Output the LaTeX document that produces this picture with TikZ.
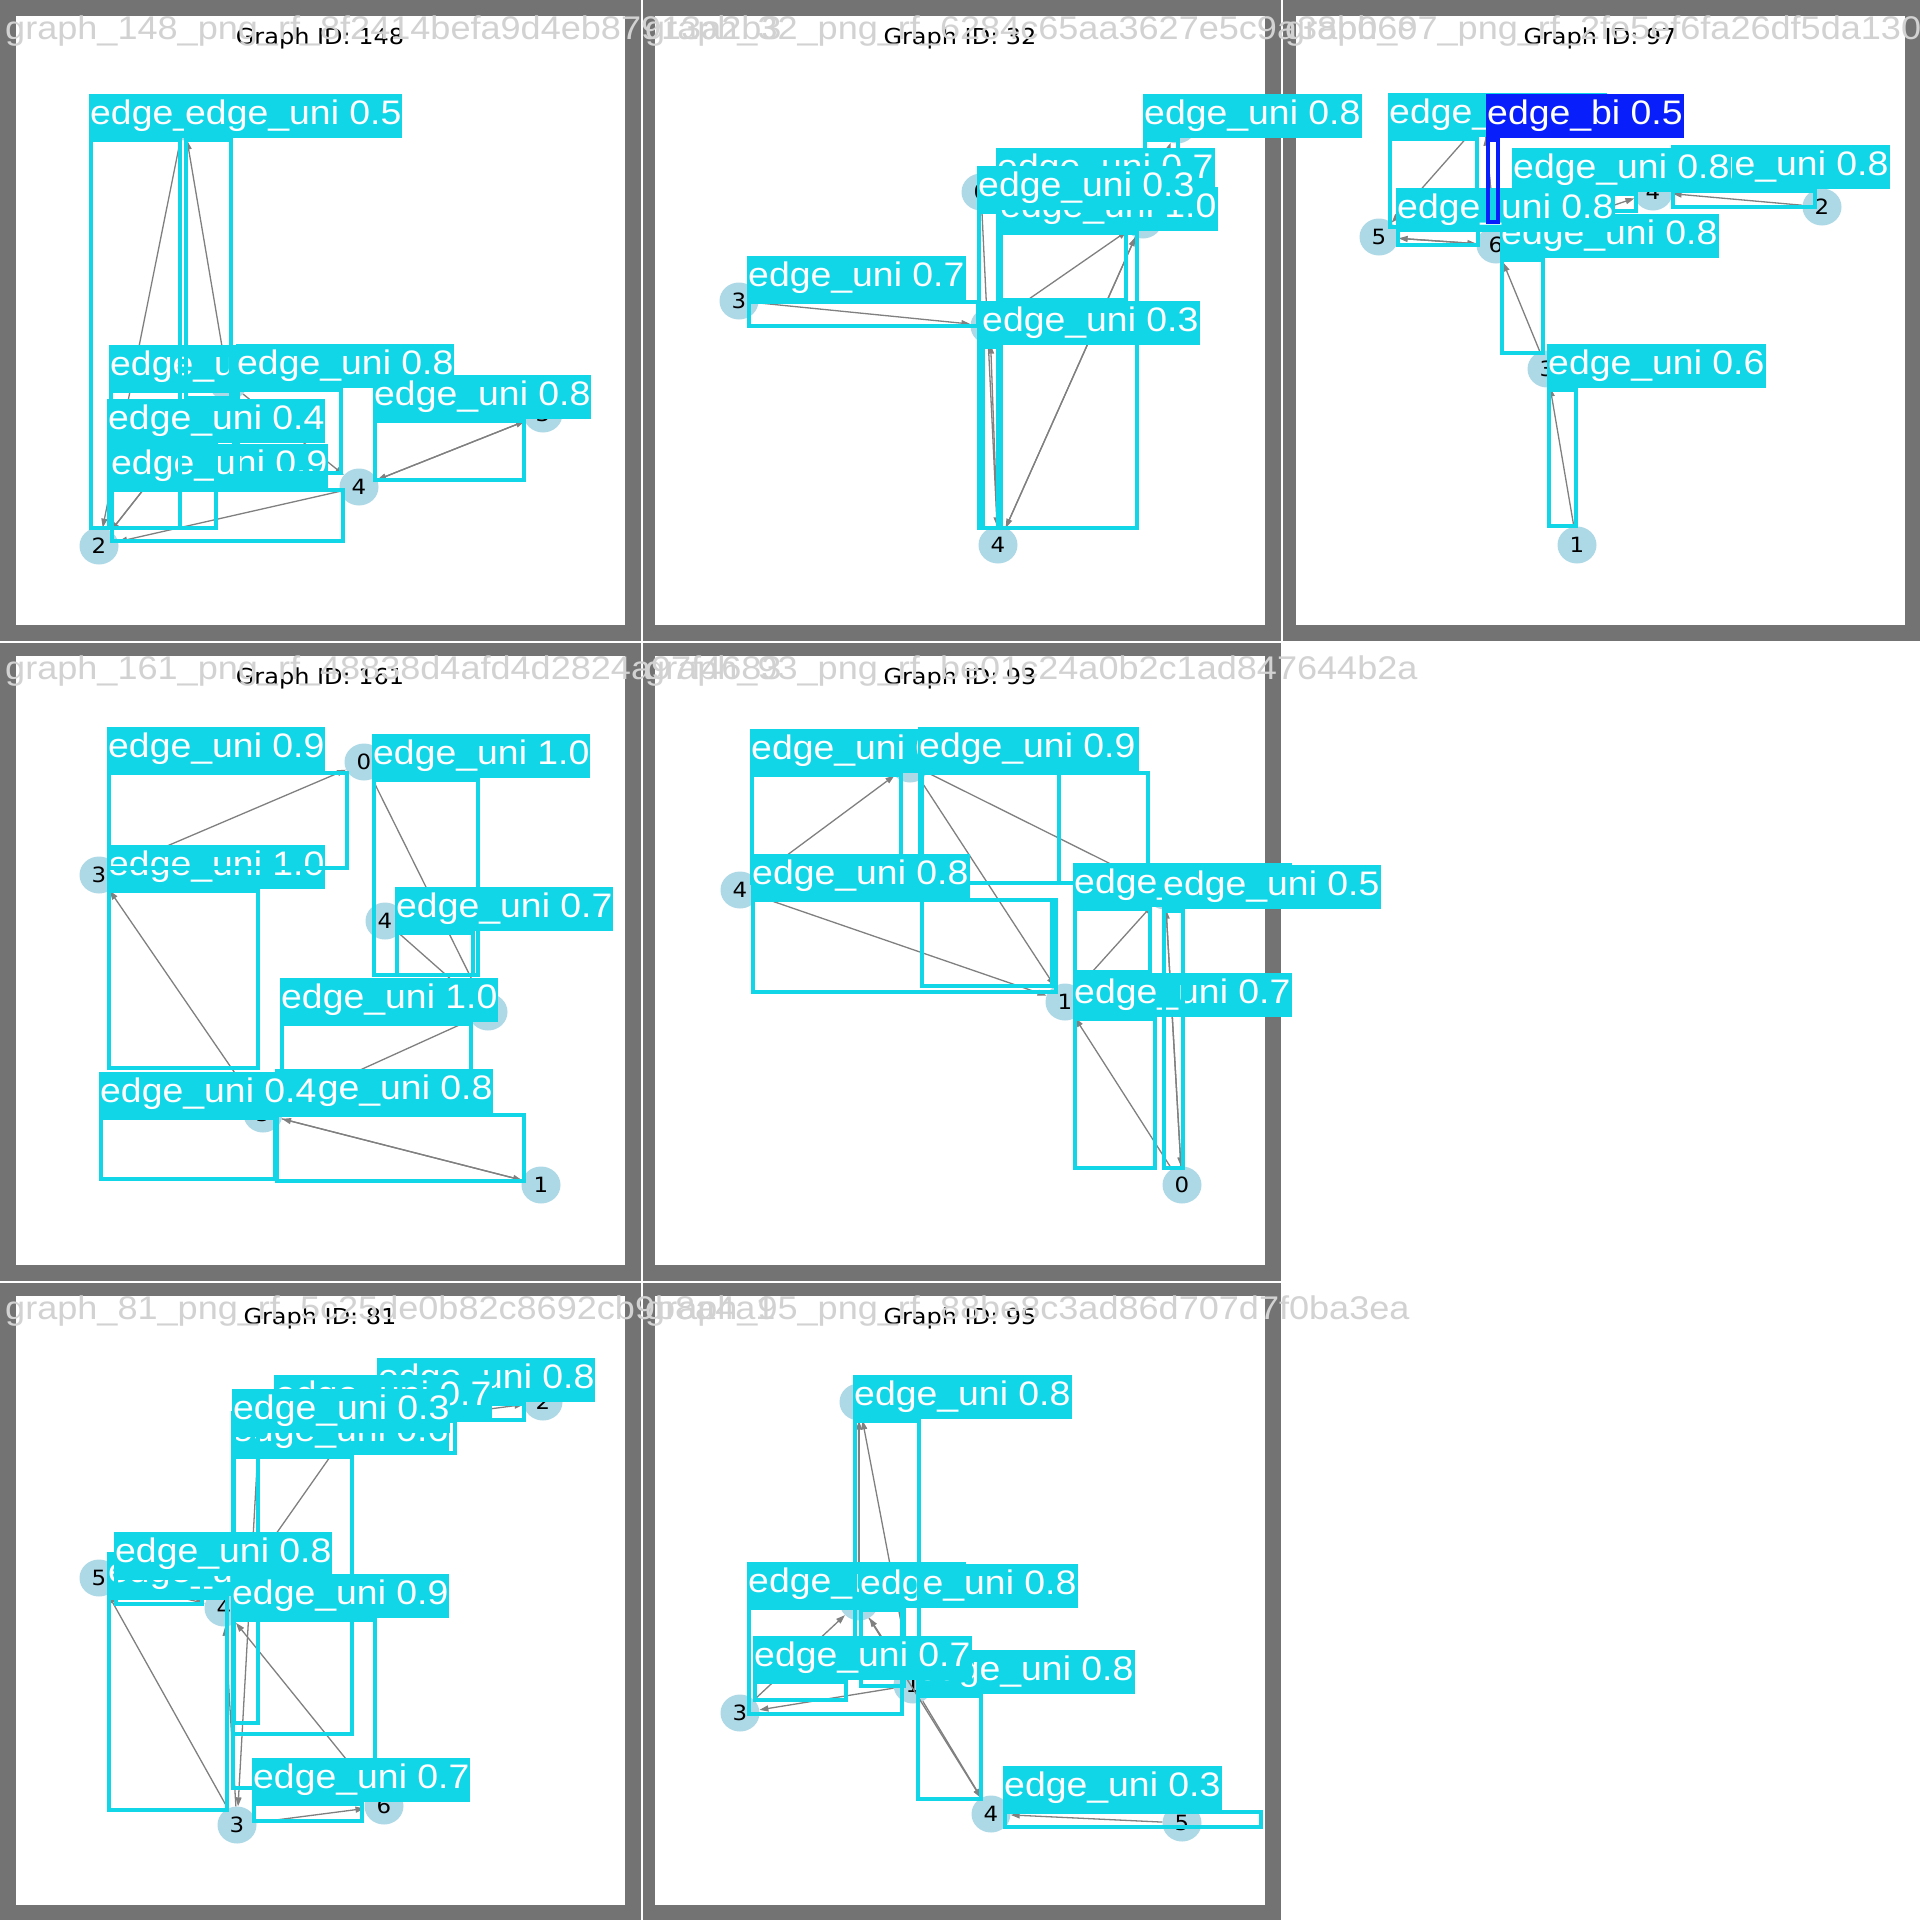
\documentclass[tikz,border=0pt]{standalone}
\usepackage{fontspec}
\usetikzlibrary{shapes.geometric,arrows.meta}
\newfontfamily\lblfam[FakeStretch=1.1]{Liberation Sans}
\newfontfamily\djvfam[FakeStretch=1.09]{DejaVu Sans}
\definecolor{framegray}{RGB}{115,115,115}
\definecolor{detcyan}{RGB}{16,214,232}
\definecolor{detblue}{RGB}{8,30,250}
\definecolor{nodeblue}{RGB}{173,216,230}
\definecolor{edgegray}{RGB}{128,128,128}
\definecolor{ovlgray}{RGB}{210,210,210}
\newcommand\labfont{\lblfam\fontsize{34}{34}\selectfont}
\newcommand\ovlfont{\lblfam\fontsize{32.8}{33}\selectfont}
\newcommand\ttlfont{\djvfam\fontsize{22}{22}\selectfont}
\newcommand\nodefont{\djvfam\fontsize{21}{21}\selectfont}
\newcommand\detbox[6]{%
  \draw[bx] (#2+2,#3+2) rectangle (#4-2,#5-2);
  \node[lab] (#1) at (#2,#3) {#6};}
\newcommand\detboxblue[6]{%
  \draw[bx,draw=detblue] (#2+2,#3+2) rectangle (#4-2,#5-2);
  \node[lab,fill=detblue] (#1) at (#2,#3) {#6};}
\begin{document}
\begin{tikzpicture}[x=1pt,y=-1pt,
  gnode/.style={ellipse,fill=nodeblue,minimum width=39pt,minimum height=37pt,inner sep=0pt,font=\nodefont,text=black},
  ar/.style={draw=edgegray,line width=1.3pt,-{Triangle[length=9pt,width=6pt]}},
  bx/.style={draw=detcyan,line width=4pt},
  lab/.style={fill=detcyan,text=white,inner xsep=1pt,inner ysep=0pt,minimum height=44pt,anchor=south west,font=\labfont},
  ttl/.style={font=\ttlfont,text=black,anchor=base,inner sep=0pt},
  ovl/.style={font=\ovlfont,text=ovlgray,anchor=base west,inner sep=0pt}]
\useasboundingbox (0,0) rectangle (1920,1920);
\fill[white] (0,0) rectangle (1920,1920);
% ---------- panel frames ----------
\fill[framegray] (0,0) rectangle (641,641);       \fill[white] (15.5,15.5) rectangle (624.5,624.5);
\fill[framegray] (643,0) rectangle (1281,641);    \fill[white] (655,15.5) rectangle (1264.5,624.5);
\fill[framegray] (1283,0) rectangle (1920,641);   \fill[white] (1295.5,15.5) rectangle (1904.5,624.5);
\fill[framegray] (0,643) rectangle (641,1281);    \fill[white] (15.5,655.5) rectangle (624.5,1264.5);
\fill[framegray] (643,643) rectangle (1281,1281); \fill[white] (655,655.5) rectangle (1264.5,1264.5);
\fill[framegray] (0,1283) rectangle (641,1920);   \fill[white] (15.5,1295.5) rectangle (624.5,1904.5);
\fill[framegray] (643,1283) rectangle (1281,1920);\fill[white] (655,1295.5) rectangle (1264.5,1904.5);
% ---------- titles ----------
\node[ttl] (t1) at (320,44) {Graph ID: 148};
\node[ttl] (t2) at (960,44) {Graph ID: 32};
\node[ttl] (t3) at (1600,44) {Graph ID: 97};
\node[ttl] (t4) at (320,684) {Graph ID: 161};
\node[ttl] (t5) at (960,684) {Graph ID: 93};
\node[ttl] (t6) at (320,1324) {Graph ID: 81};
\node[ttl] (t7) at (960,1324) {Graph ID: 95};
% ---------- panel 1 : graph 148 ----------
\node[gnode] (a0) at (184,122) {0};
\node[gnode] (a1) at (228,382) {1};
\node[gnode] (a2) at (99,546) {2};
\node[gnode] (a3) at (543,414) {3};
\node[gnode] (a4) at (359,487) {4};
\draw[ar] (a0) -- (a2);
\draw[ar] (a1) -- (a0);
\draw[ar] (a2) -- (a1);
\draw[ar] (a1) -- (a2);
\draw[ar] (a1) -- (a4);
\draw[ar] (a4) -- (a2);
\draw[ar] (a4) -- (a3);
\draw[ar] (a3) -- (a4);
\detbox{ad3}{109}{389}{236}{490}{edge\_uni 0.8}
\detbox{ad7}{110}{488}{345}{543}{edge\_uni 0.9}
\detbox{ad4}{236}{388}{343}{475}{edge\_uni 0.8}
\detbox{ad1}{89}{138}{182}{530}{edge\_uni 0.5}
\detbox{ad2}{184}{138}{233}{400}{edge\_uni 0.5}
\detbox{ad5}{373}{419}{526}{482}{edge\_uni 0.8}
\detbox{ad6}{107}{443}{218}{530}{edge\_uni 0.4}
% ---------- panel 2 : graph 32 ----------
\node[gnode] (b0) at (981,192) {0};
\node[gnode] (b1) at (990,326) {1};
\node[gnode] (b2) at (1143,220) {2};
\node[gnode] (b3) at (739,301) {3};
\node[gnode] (b4) at (998,545) {4};
\node[gnode] (b5) at (1177,125) {5};
\draw[ar] (b3) -- (b1);
\draw[ar] (b1) -- (b2);
\draw[ar] (b2) -- (b4);
\draw[ar] (b4) -- (b2);
\draw[ar] (b0) -- (b4);
\draw[ar] (b4) -- (b1);
\draw[ar] (b2) -- (b5);
\detbox{bd2}{1143}{138}{1180}{228}{edge\_uni 0.8}
\detbox{bd3}{996}{192}{1128}{302}{edge\_uni 0.7}
\detbox{bd4}{999}{231}{1139}{530}{edge\_uni 1.0}
\detbox{bd5}{977}{210}{1000}{530}{edge\_uni 0.3}
\detbox{bd1}{747}{300}{980}{328}{edge\_uni 0.7}
\detbox{bd6}{981}{345}{1000}{530}{edge\_uni 0.3}
% ---------- panel 3 : graph 97 ----------
\node[gnode] (c0) at (1484,118) {0};
\node[gnode] (c1) at (1577,545) {1};
\node[gnode] (c2) at (1822,207) {2};
\node[gnode] (c3) at (1547,369) {3};
\node[gnode] (c4) at (1653,192) {4};
\node[gnode] (c5) at (1379,237) {5};
\node[gnode] (c6) at (1496,245) {6};
\draw[ar] (c1) -- (c3);
\draw[ar] (c3) -- (c6);
\draw[ar] (c5) -- (c6);
\draw[ar] (c6) -- (c5);
\draw[ar] (c0) -- (c5);
\draw[ar] (c0) -- (c6);
\draw[ar] (c6) -- (c0);
\draw[ar] (c2) -- (c4);
\draw[ar] (c6) -- (c4);
\detbox{cd1}{1388}{137}{1479}{229}{edge\_uni 0.8}
\detbox{cd2}{1671}{189}{1817}{209}{edge\_uni 0.8}
\detbox{cd3}{1512}{192}{1638}{213}{edge\_uni 0.8}
\detbox{cd4}{1500}{258}{1545}{355}{edge\_uni 0.8}
\draw[bx] (1398,226) rectangle (1478,245);
\node[lab] (cd5) at (1396,232) {edge\_uni 0.8};
\detboxblue{cd6}{1486}{138}{1500}{224}{edge\_bi 0.5}
\detbox{cd7}{1547}{388}{1578}{528}{edge\_uni 0.6}
% ---------- panel 4 : graph 161 ----------
\node[gnode] (d0) at (364,762) {0};
\node[gnode] (d1) at (541,1185) {1};
\node[gnode] (d2) at (488,1012) {2};
\node[gnode] (d3) at (99,875) {3};
\node[gnode] (d4) at (385,921) {4};
\node[gnode] (d5) at (263,1114) {5};
\draw[ar] (d5) -- (d3);
\draw[ar] (d3) -- (d0);
\draw[ar] (d0) -- (d2);
\draw[ar] (d4) -- (d2);
\draw[ar] (d2) -- (d5);
\draw[ar] (d1) -- (d5);
\draw[ar] (d5) -- (d1);
\detbox{dd3}{107}{889}{260}{1070}{edge\_uni 1.0}
\detbox{dd1}{107}{771}{349}{870}{edge\_uni 0.9}
\detbox{dd2}{372}{778}{480}{977}{edge\_uni 1.0}
\detbox{dd4}{395}{931}{475}{977}{edge\_uni 0.7}
\detbox{dd5}{280}{1022}{473}{1073}{edge\_uni 1.0}
\detbox{dd6}{275}{1113}{526}{1183}{edge\_uni 0.8}
\detbox{dd7}{99}{1116}{277}{1181}{edge\_uni 0.4}
% ---------- panel 5 : graph 93 ----------
\node[gnode] (e0) at (1182,1185) {0};
\node[gnode] (e1) at (1065,1002) {1};
\node[gnode] (e2) at (910,764) {2};
\node[gnode] (e3) at (1165,891) {3};
\node[gnode] (e4) at (740,890) {4};
\draw[ar] (e4) -- (e2);
\draw[ar] (e4) -- (e1);
\draw[ar] (e2) -- (e1);
\draw[ar] (e2) -- (e3);
\draw[ar] (e1) -- (e3);
\draw[ar] (e0) -- (e1);
\draw[ar] (e0) -- (e3);
\draw[ar] (e3) -- (e0);
\detbox{ed3}{920}{771}{1061}{885}{edge\_uni 0.9}
\detbox{ed1}{750}{773}{903}{885}{edge\_uni 0.8}
\detbox{ed2}{918}{771}{1150}{885}{edge\_uni 0.9}
\draw[bx] (922,900) rectangle (1052,986);
\detbox{ed5}{751}{898}{1058}{994}{edge\_uni 0.8}
\detbox{ed6}{1073}{907}{1152}{974}{edge\_uni 0.8}
\detbox{ed8}{1073}{1017}{1157}{1170}{edge\_uni 0.7}
\detbox{ed7}{1162}{909}{1185}{1170}{edge\_uni 0.5}
% ---------- panel 6 : graph 81 ----------
\node[gnode] (f0) at (259,1431) {0};
\node[gnode] (f1) at (351,1427) {1};
\node[gnode] (f2) at (543,1402) {2};
\node[gnode] (f3) at (237,1825) {3};
\node[gnode] (f4) at (224,1608) {4};
\node[gnode] (f5) at (99,1578) {5};
\node[gnode] (f6) at (384,1806) {6};
\draw[ar] (f0) -- (f3);
\draw[ar] (f3) -- (f4);
\draw[ar] (f1) -- (f4);
\draw[ar] (f5) -- (f4);
\draw[ar] (f3) -- (f5);
\draw[ar] (f6) -- (f4);
\draw[ar] (f3) -- (f6);
\draw[ar] (f1) -- (f2);
\detbox{fd1}{377}{1402}{526}{1422}{edge\_uni 0.8}
\detbox{fd2}{274}{1419}{457}{1455}{edge\_uni 0.7}
\detbox{fd3}{231}{1455}{354}{1736}{edge\_uni 0.6}
\detbox{fd4}{232}{1433}{260}{1725}{edge\_uni 0.3}
\detbox{fd5}{107}{1596}{229}{1812}{edge\_uni 0.4}
\detbox{fd6}{114}{1576}{204}{1606}{edge\_uni 0.8}
\detbox{fd7}{231}{1618}{377}{1790}{edge\_uni 0.9}
\detbox{fd8}{252}{1802}{364}{1823}{edge\_uni 0.7}
% ---------- panel 7 : graph 95 ----------
\node[gnode] (g0) at (859,1402) {0};
\node[gnode] (g1) at (913,1685) {1};
\node[gnode] (g2) at (859,1602) {2};
\node[gnode] (g3) at (740,1713) {3};
\node[gnode] (g4) at (991,1814) {4};
\node[gnode] (g5) at (1182,1823) {5};
\draw[ar] (g2) -- (g0);
\draw[ar] (g1) -- (g0);
\draw[ar] (g3) -- (g2);
\draw[ar] (g1) -- (g2);
\draw[ar] (g1) -- (g3);
\draw[ar] (g1) -- (g4);
\draw[ar] (g2) -- (g4);
\draw[ar] (g5) -- (g4);
\detbox{gd2}{747}{1606}{904}{1716}{edge\_uni 0.8}
\detbox{gd3}{859}{1608}{906}{1688}{edge\_uni 0.8}
\detbox{gd1}{853}{1419}{921}{1680}{edge\_uni 0.8}
\detbox{gd5}{916}{1694}{983}{1801}{edge\_uni 0.8}
\detbox{gd4}{753}{1680}{848}{1702}{edge\_uni 0.7}
\detbox{gd6}{1003}{1810}{1263}{1829}{edge\_uni 0.3}
% ---------- overlay file names ----------
\node[ovl] (o1) at (5,39) {graph\_148\_png\_rf\_8f2414befa9d4eb87913a2b3};
\node[ovl] (o2) at (645,39) {graph\_32\_png\_rf\_6284c65aa3627e5c9a38b06c};
\node[ovl] (o3) at (1285,39) {graph\_97\_png\_rf\_2fe5ef6fa26df5da130c4e1b};
\node[ovl] (o4) at (5,679) {graph\_161\_png\_rf\_48838d4afd4d2824a97f4683};
\node[ovl] (o5) at (645,679) {graph\_93\_png\_rf\_be01c24a0b2c1ad847644b2a};
\node[ovl] (o6) at (5,1319) {graph\_81\_png\_rf\_5c25de0b82c8692cb9b8a4a1};
\node[ovl] (o7) at (645,1319) {graph\_95\_png\_rf\_88be8c3ad86d707d7f0ba3ea};
\end{tikzpicture}
\end{document}
